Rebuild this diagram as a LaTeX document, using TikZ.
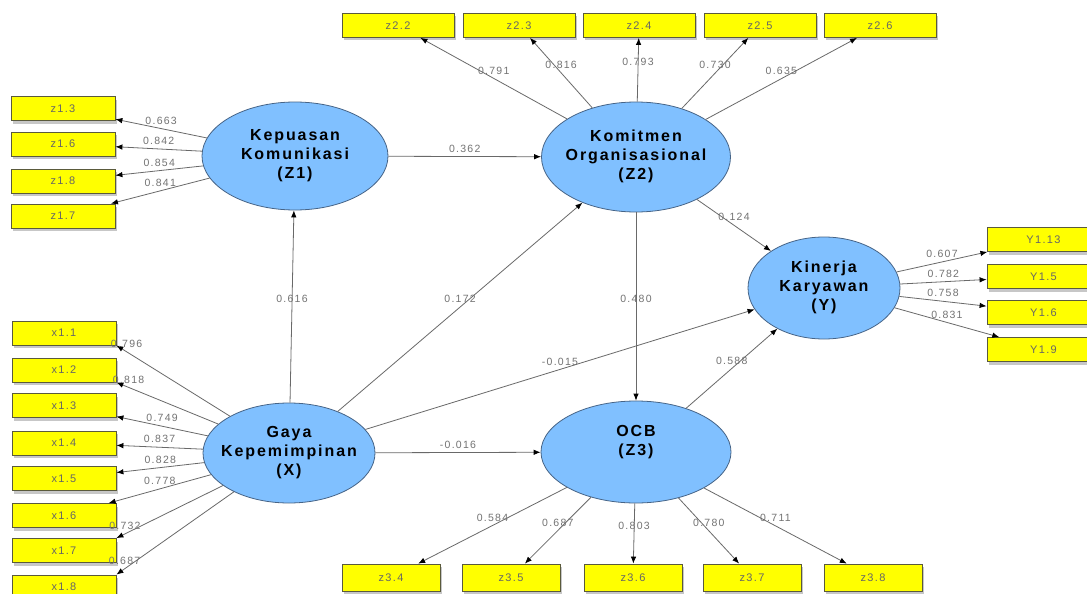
\documentclass[tikz,border=0pt]{standalone}
\usepackage{fontspec}
\setmainfont{Liberation Sans}
\newfontfamily\plsfont[LetterSpace=12]{Liberation Sans}
\usepackage{tikz}
\usetikzlibrary{arrows.meta,shapes.geometric,shadows}

\definecolor{lvblue}{RGB}{128,192,255}
\definecolor{lvedge}{RGB}{70,100,135}
\definecolor{indyel}{RGB}{255,255,0}
\definecolor{indedge}{RGB}{90,90,60}
\definecolor{linkgray}{RGB}{105,105,105}

\newcommand\lvname[1]{\makebox[0pt]{\begin{tabular}{@{}c@{}}#1\end{tabular}}}

\begin{document}
\begin{tikzpicture}[
  x=1pt,
  y=-1pt,
  latent/.style={ellipse, draw=lvedge, line width=0.8pt, fill=lvblue, inner sep=0pt,
    font=\plsfont\fontsize{16}{19}\selectfont\bfseries},
  ind/.style={rectangle, draw=indedge, line width=0.8pt, fill=indyel, minimum height=24pt,
    inner sep=0pt, text=black!60, font=\plsfont\fontsize{11}{12}\selectfont,
    drop shadow={shadow xshift=1.5pt, shadow yshift=-3pt, fill=black!22, opacity=1}},
  link/.style={draw=linkgray, line width=0.8pt, -{Latex[length=7pt,width=5.5pt,color=black]}},
  coef/.style={midway, yshift=8pt, inner sep=0pt, text=black!55,
    font=\plsfont\fontsize{10.5}{12}\selectfont}
]
\path[use as bounding box, fill=white] (0,0) rectangle (1087,594);

\node[latent, minimum width=186pt, minimum height=108pt] (Z1) at (295,156) {\lvname{Kepuasan\\Komunikasi\\(Z1)}};
\node[latent, minimum width=189pt, minimum height=110pt] (Z2) at (636,157) {\lvname{Komitmen\\Organisasional\\(Z2)}};
\node[latent, minimum width=152pt, minimum height=102pt] (Y) at (824,288) {\lvname{Kinerja\\Karyawan\\(Y)}};
\node[latent, minimum width=172pt, minimum height=100pt] (X) at (289,453) {\lvname{Gaya\\Kepemimpinan\\(X)}};
\node[latent, minimum width=190pt, minimum height=102pt] (Z3) at (636,452) {\lvname{OCB\\(Z3)\\\mbox{}}};

\foreach \nm/\y/\txt/\val in {
  z13/108.5/z1.3/0.663,
  z16/144/z1.6/0.842,
  z18/181/z1.8/0.854,
  z17/216/z1.7/0.841
}{
  \node[ind, minimum width=104pt] (\nm) at (63,\y) {\txt};
  \draw[link] (Z1) -- (\nm) node[coef] (l\nm) {\val};
}
\foreach \nm/\x/\txt/\val in {
  z22/398/z2.2/0.791,
  z23/519/z2.3/0.816,
  z24/639/z2.4/0.793,
  z25/760/z2.5/0.730,
  z26/880/z2.6/0.635
}{
  \node[ind, minimum width=112pt] (\nm) at (\x,25.5) {\txt};
  \draw[link] (Z2) -- (\nm) node[coef] (l\nm) {\val};
}
\foreach \nm/\y/\txt/\val in {
  y113/239.5/Y1.13/0.607,
  y15/276.5/Y1.5/0.782,
  y16/312.5/Y1.6/0.758,
  y19/349.5/Y1.9/0.831
}{
  \node[ind, minimum width=113pt] (\nm) at (1043.5,\y) {\txt};
  \draw[link] (Y) -- (\nm) node[coef] (l\nm) {\val};
}
\foreach \nm/\y/\txt/\val/\anc/\p in {
  x11/333/x1.1/0.796/.south east/0.91,
  x12/370/x1.2/0.818/.south east/0.88,
  x13/405.5/x1.3/0.749//0.5,
  x14/443/x1.4/0.837//0.5,
  x15/478.5/x1.5/0.828//0.5,
  x16/515.5/x1.6/0.778//0.5,
  x17/550.5/x1.7/0.732/.north east/0.92,
  x18/587/x1.8/0.687/.north east/0.93
}{
  \node[ind, minimum width=104pt] (\nm) at (64,\y) {\txt};
  \draw[link] (X) -- (\nm\anc) node[coef, pos=\p] (l\nm) {\val};
}
\foreach \nm/\x/\txt/\val in {
  z34/391/z3.4/0.584,
  z35/511/z3.5/0.687,
  z36/633/z3.6/0.803,
  z37/752/z3.7/0.780,
  z38/873/z3.8/0.711
}{
  \node[ind, minimum width=98pt, minimum height=27pt] (\nm) at (\x,577.5) {\txt};
  \draw[link] (Z3) -- (\nm) node[coef] (l\nm) {\val};
}

\draw[link] (Z1) -- (Z2) node[coef] (c12) {0.362};
\draw[link] (X) -- (Z1) node[coef] (cx1) {0.616};
\draw[link] (X) -- (Z2) node[coef] (cx2) {0.172};
\draw[link] (X) -- (Y) node[coef] (cxy) {-0.015};
\draw[link] (X) -- (Z3) node[coef] (cx3) {-0.016};
\draw[link] (Z2) -- (Z3) node[coef] (c23) {0.480};
\draw[link] (Z2) -- (Y) node[coef] (c2y) {0.124};
\draw[link] (Z3) -- (Y) node[coef] (c3y) {0.588};
\end{tikzpicture}
\end{document}
